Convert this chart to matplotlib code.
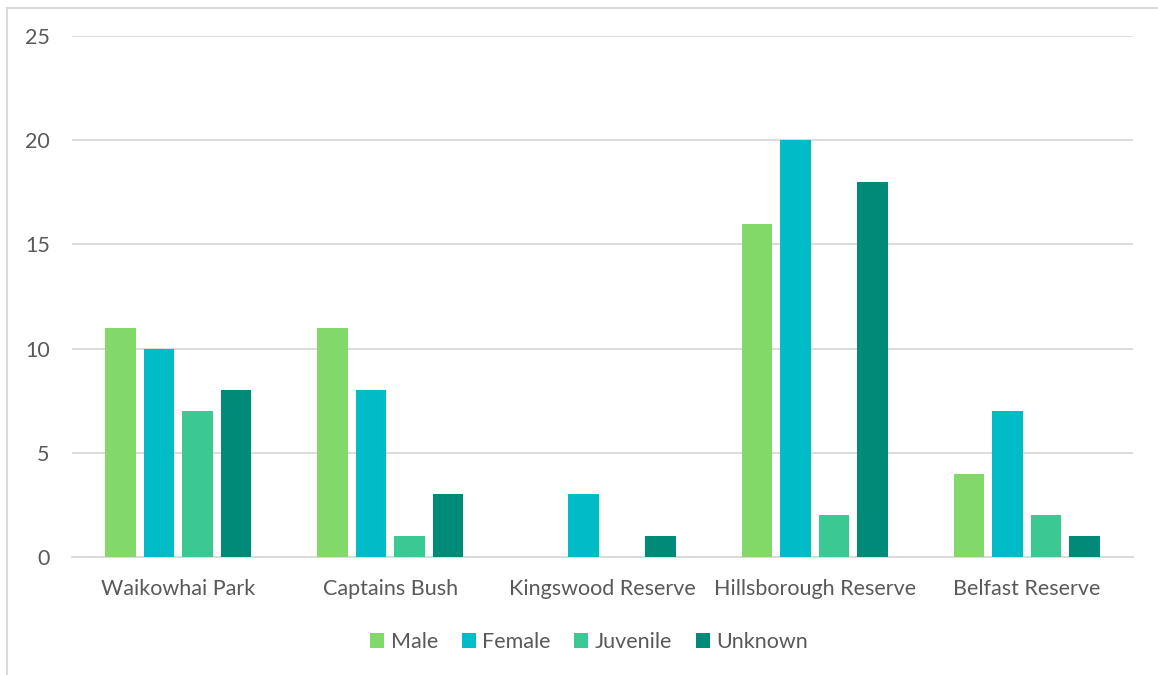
import matplotlib
matplotlib.use("Agg")
import matplotlib.pyplot as plt
from matplotlib.patches import Rectangle
import numpy as np

plt.rcParams["font.family"] = ["Lato", "DejaVu Sans"]

# Sightings by site and class
sites = ["Waikowhai Park", "Captains Bush", "Kingswood Reserve",
         "Hillsborough Reserve", "Belfast Reserve"]
male = [11, 11, 0, 16, 4]
female = [10, 8, 3, 20, 7]
juvenile = [7, 1, 0, 2, 2]
unknown = [8, 3, 1, 18, 1]

series = [
    ("Male", male, "#82D96A"),
    ("Female", female, "#00BCC7"),
    ("Juvenile", juvenile, "#3CC892"),
    ("Unknown", unknown, "#008A78"),
]

TEXT = "#595959"
GRID = "#D9D9D9"
FS = 15.5

fig = plt.figure(figsize=(11.58, 6.75), dpi=100)
ax = fig.add_axes([72 / 1158, 1 - 557 / 675, (1133 - 72) / 1158, (557 - 36) / 675])

# light chart-area border (runs off the right and bottom edges)
fig.patches.append(Rectangle((7 / 1158, -0.05), 1.2, 1 - 8 / 675 + 0.05,
                             transform=fig.transFigure, fill=False,
                             edgecolor="#D9D9D9", linewidth=1.5))

x = np.arange(len(sites))
step = 0.1815
width = 0.144
n = len(series)
for i, (label, vals, color) in enumerate(series):
    xs = x + (i - (n - 1) / 2) * step
    ax.bar(xs, vals, width, label=label, color=color, zorder=3)

ax.set_xlim(-0.5, len(sites) - 0.5)
ax.set_ylim(0, 25)
ax.set_yticks(range(0, 26, 5))
ax.set_xticks(x)
ax.set_xticklabels(sites)
ax.grid(axis="y", color=GRID, linewidth=1.3, zorder=0)
ax.set_axisbelow(True)
for s in ["top", "right", "left"]:
    ax.spines[s].set_visible(False)
ax.spines["bottom"].set_color(GRID)
ax.spines["bottom"].set_linewidth(1.3)
ax.tick_params(axis="both", length=0, labelsize=FS, colors=TEXT)
ax.tick_params(axis="x", pad=16)
ax.tick_params(axis="y", pad=16)

fig.legend(loc="center", bbox_to_anchor=(589 / 1158, 1 - 642 / 675), ncol=4,
           frameon=False, fontsize=FS, handlelength=0.65, handleheight=0.65,
           handletextpad=0.3, columnspacing=1.1, labelcolor=TEXT)

fig.savefig("out.png", dpi=100)
